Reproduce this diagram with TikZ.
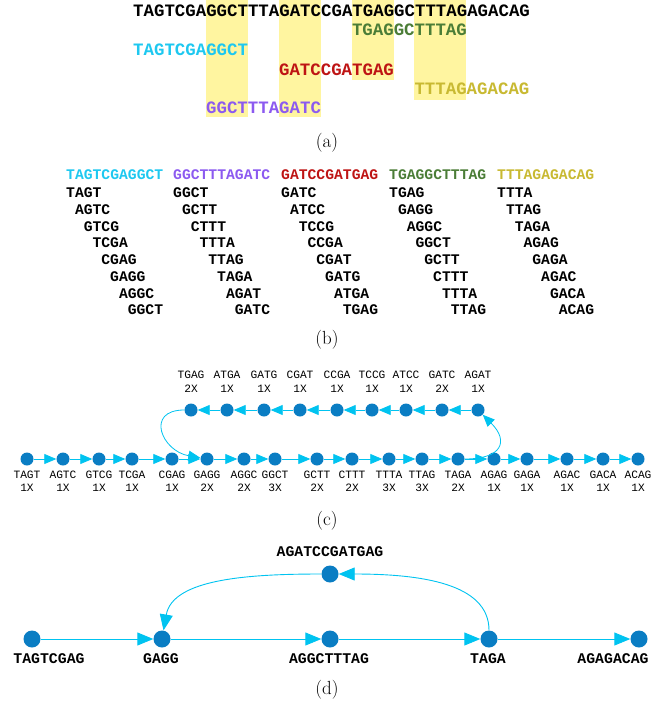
\documentclass[tikz,border=0pt]{standalone}
\usepackage{fontspec}
\usepackage{tikz}
\usetikzlibrary{arrows.meta,calc,positioning}
\newfontfamily\seqmono{Liberation Mono}
\newcommand\seqfont{\seqmono\bfseries\fontsize{17.4}{20}\selectfont}
\newcommand\kmerfont{\seqmono\bfseries\fontsize{14.7}{17}\selectfont}
\newcommand\clabfont{\seqmono\fontsize{11.2}{13}\selectfont}
\newcommand\dlabfont{\seqmono\bfseries\fontsize{14.8}{17}\selectfont}
\newcommand\capfont{\fontsize{19}{22}\selectfont}
\definecolor{seqcyan}{RGB}{30,200,240}
\definecolor{seqpurple}{RGB}{140,90,240}
\definecolor{seqred}{RGB}{190,20,20}
\definecolor{seqgreen}{RGB}{75,125,55}
\definecolor{seqolive}{RGB}{200,185,50}
\definecolor{bandyellow}{RGB}{255,245,160}
\definecolor{nodeblue}{RGB}{10,125,195}
\definecolor{edgecyan}{RGB}{0,195,240}
\tikzset{
    bandfill/.style={fill=bandyellow,draw=none},
    seqtext/.style={anchor=west,inner sep=0pt,font=\seqfont},
    kmertext/.style={anchor=west,inner sep=0pt,font=\kmerfont},
    knode/.style={circle,fill=nodeblue,inner sep=0pt,minimum size=13pt},
    dnode/.style={circle,fill=nodeblue,inner sep=0pt,minimum size=17pt},
    kedge/.style={draw=edgecyan,line width=0.8pt,-{Triangle[length=12pt,width=10pt]}},
    dedge/.style={draw=edgecyan,line width=0.9pt,-{Triangle[length=16pt,width=13pt]}},
    clabel/.style={font=\clabfont,inner sep=0pt},
    dlabel/.style={font=\dlabfont,inner sep=0pt},
    caption/.style={font=\capfont,inner sep=0pt}
}
\begin{document}
\begin{tikzpicture}[x=1pt,y=-1pt]
  \useasboundingbox (0,0) rectangle (663,706);

  % (a)
  \def\ch{10.42}
  \fill[bandfill] ({133+7*\ch},0) rectangle ({133+11*\ch},117);
  \fill[bandfill] ({133+14*\ch},0) rectangle ({133+18*\ch},117);
  \fill[bandfill] ({133+21*\ch},0) rectangle ({133+25*\ch},80);
  \fill[bandfill] ({133+27*\ch},0) rectangle ({133+32*\ch},100);
  \node[seqtext] (genome) at (133,10.5) {TAGTCGAGGCTTTAGATCCGATGAGGCTTTAGAGACAG};
  \node[seqtext,text=seqgreen]  (r4) at ({133+21*\ch},30)  {TGAGGCTTTAG};
  \node[seqtext,text=seqcyan]   (r1) at (133,50)           {TAGTCGAGGCT};
  \node[seqtext,text=seqred]    (r3) at ({133+14*\ch},70)  {GATCCGATGAG};
  \node[seqtext,text=seqolive]  (r5) at ({133+27*\ch},89)  {TTTAGAGACAG};
  \node[seqtext,text=seqpurple] (r2) at ({133+7*\ch},108)  {GGCTTTAGATC};
  \node[caption] (capa) at (327,143) {(a)};

  % (b)
  \foreach \hx/\hd/\hc/\kl in {
      66/TAGTCGAGGCT/seqcyan/{TAGT,AGTC,GTCG,TCGA,CGAG,GAGG,AGGC,GGCT},
      173/GGCTTTAGATC/seqpurple/{GGCT,GCTT,CTTT,TTTA,TTAG,TAGA,AGAT,GATC},
      281/GATCCGATGAG/seqred/{GATC,ATCC,TCCG,CCGA,CGAT,GATG,ATGA,TGAG},
      389/TGAGGCTTTAG/seqgreen/{TGAG,GAGG,AGGC,GGCT,GCTT,CTTT,TTTA,TTAG},
      497/TTTAGAGACAG/seqolive/{TTTA,TTAG,TAGA,AGAG,GAGA,AGAC,GACA,ACAG}}{
    \node[kmertext,text=\hc] (b\hd) at (\hx,175) {\hd};
    \foreach \w [count=\j from 0] in \kl{
      \node[kmertext] (b\hd-\j) at ({\hx+\j*8.8},{193+\j*16.7}) {\w};
    }
  }
  \node[caption] (capb) at (327,340) {(b)};

  % (c)
  \foreach \w/\x/\n in {TAGT/27/1,AGTC/63/1,GTCG/99/1,TCGA/132/1,CGAG/172/1,
      GAGG/207/2,AGGC/244/2,GGCT/275/3,GCTT/317/2,CTTT/352/2,TTTA/389/3,
      TTAG/422/3,TAGA/458/2,AGAG/494/1,GAGA/527/1,AGAC/567/1,GACA/603/1,ACAG/638/1}{
    \node[knode] (c\w) at (\x,459) {};
    \node[clabel] (c\w-name) at (\x,475) {\w};
    \node[clabel] (c\w-count) at (\x,488) {\n X};
  }
  \foreach \w/\x/\n in {TGAG/191/2,ATGA/227/1,GATG/264/1,CGAT/300/1,CCGA/337/1,
      TCCG/372/1,ATCC/406/1,GATC/442/2,AGAT/478/1}{
    \node[knode] (c\w) at (\x,410) {};
    \node[clabel] (c\w-name) at (\x,375) {\w};
    \node[clabel] (c\w-count) at (\x,389) {\n X};
  }
  \foreach \a/\b in {TAGT/AGTC,AGTC/GTCG,GTCG/TCGA,TCGA/CGAG,CGAG/GAGG,GAGG/AGGC,
      AGGC/GGCT,GGCT/GCTT,GCTT/CTTT,CTTT/TTTA,TTTA/TTAG,TTAG/TAGA,TAGA/AGAG,
      AGAG/GAGA,GAGA/AGAC,AGAC/GACA,GACA/ACAG,
      AGAT/GATC,GATC/ATCC,ATCC/TCCG,TCCG/CCGA,CCGA/CGAT,CGAT/GATG,GATG/ATGA,ATGA/TGAG}
    \draw[kedge] (c\a) -- (c\b);
  \draw[kedge] (cTGAG) to[out=180,in=170,looseness=2] (cGAGG);
  \draw[kedge] (cTAGA) to[out=0,in=-45,looseness=2] (cAGAT);
  \node[caption] (capc) at (327,521) {(c)};

  % (d)
  \node[dnode] (dTAGTCGAG) at (32,639) {};
  \node[dnode] (dGAGG) at (162,639) {};
  \node[dnode] (dAGGCTTTAG) at (330,639) {};
  \node[dnode] (dTAGA) at (489,639) {};
  \node[dnode] (dAGAGACAG) at (639,639) {};
  \node[dnode] (dAGATCCGATGAG) at (330,574) {};
  \foreach \w/\x in {TAGTCGAG/49,GAGG/161,AGGCTTTAG/329,TAGA/488,AGAGACAG/613}
    \node[dlabel] (d\w-name) at (\x,659) {\w};
  \node[dlabel] (dAGATCCGATGAG-name) at (330,552) {AGATCCGATGAG};
  \draw[dedge] (dTAGTCGAG) -- (dGAGG);
  \draw[dedge] (dGAGG) -- (dAGGCTTTAG);
  \draw[dedge] (dAGGCTTTAG) -- (dTAGA);
  \draw[dedge] (dTAGA) -- (dAGAGACAG);
  \draw[dedge] (dTAGA) to[out=90,in=0,out looseness=0.75,in looseness=1.3] (dAGATCCGATGAG);
  \draw[dedge] (dAGATCCGATGAG) to[out=180,in=80,out looseness=1.1,in looseness=0.8] (dGAGG);
  \node[caption] (capd) at (327,690) {(d)};
\end{tikzpicture}
\end{document}
